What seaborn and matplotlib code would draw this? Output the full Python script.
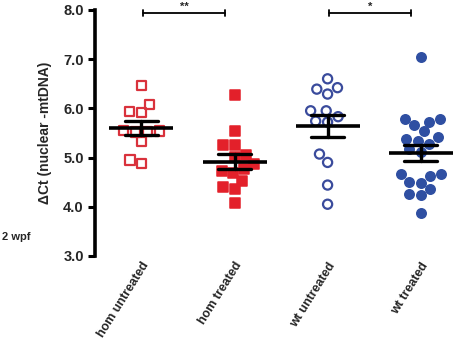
import numpy as np
import pandas as pd
import matplotlib
matplotlib.use("Agg")
import matplotlib.pyplot as plt
import seaborn as sns
from matplotlib.ticker import FormatStrFormatter

# ---- data ----
categories = ["hom untreated", "hom treated", "wt untreated", "wt treated"]
hom_untreated = [6.47, 6.08, 5.93, 5.91, 5.55, 5.54, 5.53, 5.52, 5.32, 4.95, 4.88]
hom_treated = [6.28, 5.53, 5.26, 5.26, 5.05, 5.02, 4.87, 4.77, 4.68, 4.73, 4.53, 4.41, 4.36, 4.08]
wt_untreated = [6.60, 6.42, 6.39, 6.29, 5.95, 5.95, 5.83, 5.74, 5.72, 5.07, 4.90, 4.44, 4.05]
wt_treated = [7.04, 5.78, 5.73, 5.66, 5.78, 5.53, 5.34, 5.38, 5.41, 5.28, 5.17, 5.12,
              4.67, 4.63, 4.49, 4.51, 4.67, 4.36, 4.26, 4.23, 3.88]
yticks = [3.0, 4.0, 5.0, 6.0, 7.0, 8.0]
sig_pairs = [(0, 1, "**"), (2, 3, "*")]
sig_y = 7.94

colors = ["#d9323c", "#e3202a", "#3a4b9c", "#2f4fa2"]
markers = ["s", "s", "o", "o"]
hollow = [True, False, True, False]

values = [hom_untreated, hom_treated, wt_untreated, wt_treated]
df = pd.DataFrame({
    "group": np.concatenate([[c] * len(v) for c, v in zip(categories, values)]),
    "value": np.concatenate(values),
})

sns.set_theme(style="white")
plt.rcParams["font.family"] = ["Liberation Sans", "DejaVu Sans"]
plt.rcParams["font.weight"] = "bold"

fig = plt.figure(figsize=(4.70, 3.43), dpi=100)
ax = fig.add_axes([0.202, 0.254, 0.792, 0.717])

hollow_colls = []
for cat, col, mk, hol in zip(categories, colors, markers, hollow):
    sub = df[df["group"] == cat]
    n0 = len(ax.collections)
    if hol:
        sns.swarmplot(data=sub, x="group", y="value", order=categories, ax=ax,
                      color=col, marker=mk, size=6.6, linewidth=1.6,
                      edgecolor=col, zorder=2)
        for c in ax.collections[n0:]:
            hollow_colls.append((c, col))
    else:
        sns.swarmplot(data=sub, x="group", y="value", order=categories, ax=ax,
                      color=col, marker=mk, size=6.8, linewidth=1.1,
                      edgecolor=col, zorder=2)

sns.pointplot(data=df, x="group", y="value", order=categories, ax=ax,
              errorbar="se", capsize=0.36, color="black", linestyle="none",
              marker="_", markersize=46, markeredgewidth=2.6,
              err_kws={"linewidth": 2.4}, zorder=5)

for c, col in hollow_colls:
    c.set_facecolor("none")
    c.set_edgecolor(col)
    c.set_linewidth(1.6)

ax.set_xlim(-0.5, 3.5)
ax.set_ylim(3.0, 8.0)
ax.set_yticks(yticks)
ax.yaxis.set_major_formatter(FormatStrFormatter("%.1f"))
ax.set_xlabel("")
ax.set_ylabel("\u0394Ct (nuclear -mtDNA)", fontsize=10, fontweight="bold", labelpad=8)

for s in ["top", "right", "bottom"]:
    ax.spines[s].set_visible(False)
ax.spines["left"].set_linewidth(2.6)
ax.spines["left"].set_color("black")
ax.tick_params(axis="y", direction="out", length=5, width=2.2, color="black",
               labelsize=10.5, left=True, pad=3)
ax.tick_params(axis="x", length=0, labelsize=9, pad=3)
for lab in ax.get_yticklabels():
    lab.set_fontweight("bold")
for lab in ax.get_xticklabels():
    lab.set_rotation(58)
    lab.set_ha("right")
    lab.set_rotation_mode("anchor")
    lab.set_fontweight("bold")

# significance brackets
for i, j, star in sig_pairs:
    x0, x1 = i + 0.02, j - 0.1
    ax.plot([x0, x1], [sig_y, sig_y], color="black", lw=1.3, clip_on=False)
    ax.plot([x0, x0], [sig_y - 0.06, sig_y + 0.06], color="black", lw=1.3, clip_on=False)
    ax.plot([x1, x1], [sig_y - 0.06, sig_y + 0.06], color="black", lw=1.3, clip_on=False)
    ax.text((x0 + x1) / 2, sig_y + 0.02, star, ha="center", va="bottom",
            fontsize=8, fontweight="bold", clip_on=False)

fig.text(0.004, 0.31, "2 wpf", fontsize=8, fontweight="bold", ha="left", va="center")

fig.savefig("out.png", dpi=100)
